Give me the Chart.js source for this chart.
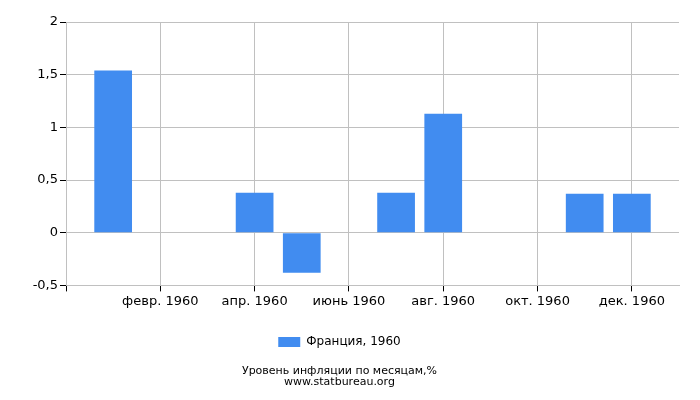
<!DOCTYPE html>
<html>
<head>
<meta charset="utf-8">
<script src="https://cdn.jsdelivr.net/npm/chart.js"></script>
<style>
  html, body { margin: 0; padding: 0; background: #fff; }
  #wrap { width: 700px; height: 400px; }
</style>
</head>
<body>
<div id="wrap"><canvas id="grafico"></canvas></div>
<script>
// months 1960, with an empty slot before and after to pad the axis
const meses = ['', 'янв. 1960', 'февр. 1960', 'март 1960', 'апр. 1960', 'май 1960', 'июнь 1960',
    'июль 1960', 'авг. 1960', 'сент. 1960', 'окт. 1960', 'нояб. 1960', 'дек. 1960', ''];
const inflacao = [null, 1.54, 0, 0, 0.38, -0.38, 0, 0.38, 1.13, 0, 0, 0.37, 0.37, null];
const ticksY = [-0.5, 0, 0.5, 1, 1.5, 2];

const fonte = 'DejaVu Sans';
const corGrade = '#c0c0c0';

// only even months get a label, grid line and tick mark
const mostrar = i => i % 2 === 0 && i < 13;

new Chart(document.getElementById('grafico'), {
    type: 'bar',
    data: {
        labels: meses,
        datasets: [{
            label: 'Франция, 1960',
            data: inflacao,
            backgroundColor: '#418cf0',
            categoryPercentage: 1,
            barPercentage: 0.8
        }]
    },
    options: {
        responsive: true,
        maintainAspectRatio: false,
        animation: false,
        layout: { padding: { left: 0, right: 21, top: 22, bottom: 12 } },
        plugins: {
            legend: {
                position: 'bottom',
                labels: {
                    boxWidth: 22,
                    boxHeight: 10,
                    color: '#000',
                    font: { family: fonte, size: 12 },
                    padding: 14
                }
            },
            title: {
                display: true,
                position: 'bottom',
                text: ['Уровень инфляции по месяцам,%', 'www.statbureau.org'],
                color: '#000',
                font: { family: fonte, size: 11, weight: 'normal', lineHeight: 1.0 },
                padding: { top: 8, bottom: 0 }
            },
            tooltip: { enabled: false }
        },
        scales: {
            x: {
                offset: false,
                afterFit: axis => { axis.height += 11; },
                grid: {
                    offset: false,
                    color: ctx => mostrar(ctx.index) ? corGrade : 'rgba(0,0,0,0)',
                    tickColor: ctx => mostrar(ctx.index) ? '#000' : 'rgba(0,0,0,0)',
                    tickLength: 6
                },
                border: { color: corGrade },
                ticks: {
                    autoSkip: false,
                    maxRotation: 0,
                    color: '#000',
                    font: { family: fonte, size: 13 },
                    padding: 2,
                    callback: function (v, i) { return mostrar(i) ? meses[i] : ''; }
                }
            },
            y: {
                min: -0.5,
                max: 2,
                afterBuildTicks: axis => { axis.ticks = ticksY.map(v => ({ value: v })); },
                afterFit: axis => { axis.width = 66; },
                grid: { color: corGrade, tickColor: '#000', tickLength: 6 },
                border: { color: corGrade },
                ticks: {
                    color: '#000',
                    font: { family: fonte, size: 13 },
                    padding: 2,
                    callback: v => String(v).replace('.', ',')
                }
            }
        }
    }
});
</script>
</body>
</html>
